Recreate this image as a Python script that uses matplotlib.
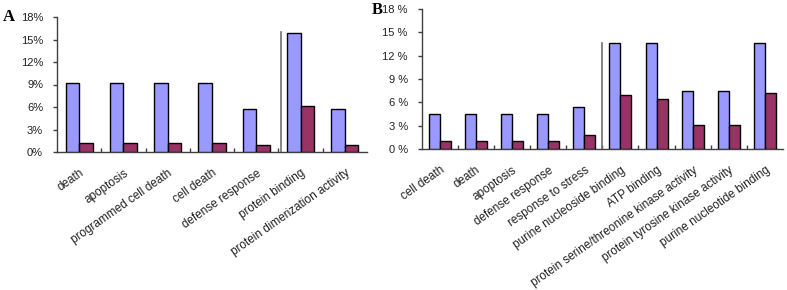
import matplotlib
matplotlib.use("Agg")
import matplotlib.pyplot as plt
import numpy as np

plt.rcParams['font.family'] = ['Liberation Sans', 'DejaVu Sans']

# Panel A data
cats_a = ["death", "apoptosis", "programmed cell death", "cell death",
          "defense response", "protein binding", "protein dimerization activity"]
blue_a = [9.2, 9.2, 9.2, 9.2, 5.8, 15.9, 5.8]
red_a = [1.2, 1.2, 1.2, 1.2, 1.0, 6.2, 1.0]
ytick_a = ["0%", "3%", "6%", "9%", "12%", "15%", "18%"]

# Panel B data
cats_b = ["cell death", "death", "apoptosis", "defense response", "response to stress",
          "purine nucleoside binding", "ATP binding",
          "protein serine/threonine kinase activity",
          "protein tyrosine kinase activity", "purine nucleotide binding"]
blue_b = [4.5, 4.5, 4.5, 4.5, 5.45, 13.6, 13.6, 7.5, 7.5, 13.6]
red_b = [1.0, 1.0, 1.0, 1.0, 1.75, 6.9, 6.45, 3.05, 3.1, 7.2]
ytick_b = ["0 %", "3 %", "6 %", "9 %", "12 %", "15 %", "18 %"]

yvals = [0, 3, 6, 9, 12, 15, 18]

BLUE = "#9999FF"
RED = "#993366"
AXC = "#404040"

W, H = 787, 290
fig = plt.figure(figsize=(W / 100, H / 100), dpi=100)


def panel(rect, cats, blue, red, yticklabels, sep_x, sep_top, letter, letter_xy):
    ax = fig.add_axes(rect)
    n = len(cats)
    x = np.arange(n)
    bw = 0.305
    ax.bar(x - bw / 2, blue, bw, color=BLUE, edgecolor="black", linewidth=1.0, zorder=3)
    ax.bar(x + bw / 2, red, bw, color=RED, edgecolor="black", linewidth=1.0, zorder=3)
    ax.set_xlim(-0.5, n - 0.5)
    ax.set_ylim(0, 18)
    for s in ["top", "right"]:
        ax.spines[s].set_visible(False)
    for s in ["left", "bottom"]:
        ax.spines[s].set_color(AXC)
        ax.spines[s].set_linewidth(1.0)
    ax.set_yticks(yvals)
    ax.set_yticklabels(yticklabels, fontsize=8, color="#202020")
    ax.tick_params(axis="y", direction="out", length=3, width=1, color=AXC, pad=7)
    ax.set_xticks(x)
    ax.set_xticklabels(cats, rotation=35, ha="right", va="top",
                       rotation_mode="anchor", fontsize=8.5, color="#202020")
    ax.tick_params(axis="x", which="major", length=0, pad=11)
    ax.set_xticks(np.arange(0.5, n - 0.5, 1.0), minor=True)
    ax.tick_params(axis="x", which="minor", direction="in", length=3, width=1, color=AXC)
    ax.plot([sep_x, sep_x], [0, sep_top], color="#707070", linewidth=1.2, zorder=2)
    fig.text(letter_xy[0], letter_xy[1], letter, fontsize=12, fontweight="bold",
             family="Liberation Serif", ha="left", va="center")
    return ax


panel([57 / W, 1 - 152 / H, (367 - 57) / W, (152 - 17) / H],
      cats_a, blue_a, red_a, ytick_a, 4.55, 16.0, "A", (3 / W, 1 - 17 / H))
panel([421.7 / W, 1 - 149 / H, (783 - 421.7) / W, (149 - 9) / H],
      cats_b, blue_b, red_b, ytick_b, 4.5, 13.6, "B", (372 / W, 1 - 10 / H))

fig.savefig("out.png", dpi=100)
